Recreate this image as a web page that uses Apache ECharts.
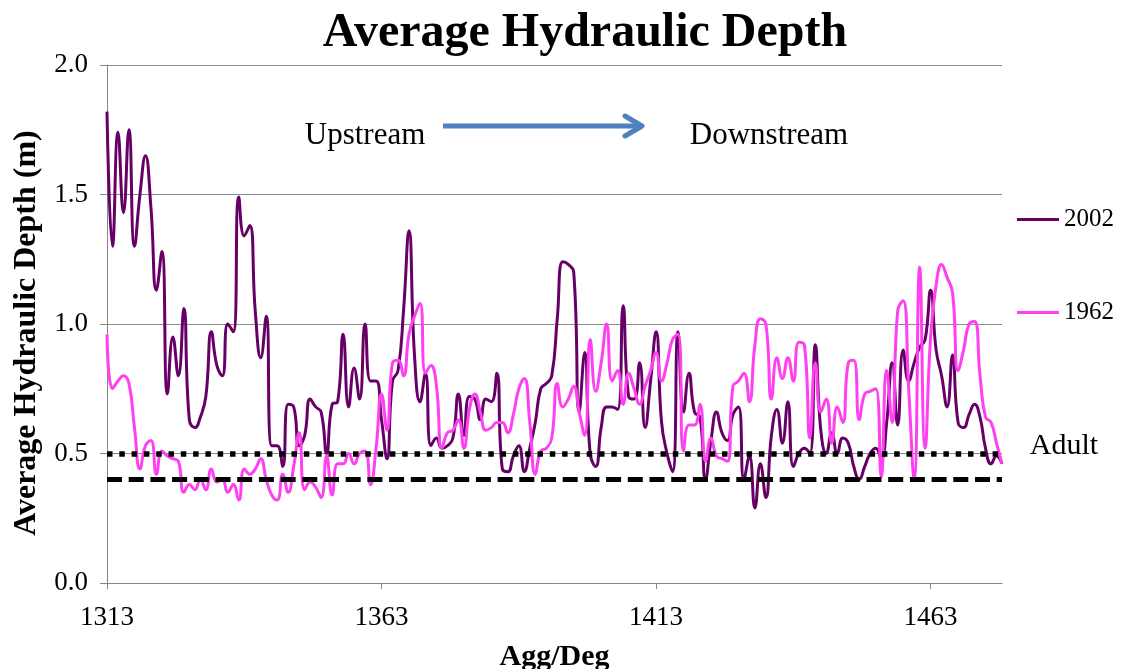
<!DOCTYPE html>
<html><head><meta charset="utf-8">
<script src="https://cdn.jsdelivr.net/npm/echarts@6/dist/echarts.min.js"></script>
<style>html,body{margin:0;padding:0;background:#fff}#c{width:1136px;height:669px}</style>
</head><body><div id="c"></div>
<script>
const categories = [
1313,1314,1315,1316,1317,1318,1319,1320,1321,1322,
1323,1324,1325,1326,1327,1328,1329,1330,1331,1332,
1333,1334,1335,1336,1337,1338,1339,1340,1341,1342,
1343,1344,1345,1346,1347,1348,1349,1350,1351,1352,
1353,1354,1355,1356,1357,1358,1359,1360,1361,1362,
1363,1364,1365,1366,1367,1368,1369,1370,1371,1372,
1373,1374,1375,1376,1377,1378,1379,1380,1381,1382,
1383,1384,1385,1386,1387,1388,1389,1390,1391,1392,
1393,1394,1395,1396,1397,1398,1399,1400,1401,1402,
1403,1404,1405,1406,1407,1408,1409,1410,1411,1412,
1413,1414,1415,1416,1417,1418,1419,1420,1421,1422,
1423,1424,1425,1426,1427,1428,1429,1430,1431,1432,
1433,1434,1435,1436,1437,1438,1439,1440,1441,1442,
1443,1444,1445,1446,1447,1448,1449,1450,1451,1452,
1453,1454,1455,1456,1457,1458,1459,1460,1461,1462,
1463,1464,1465,1466,1467,1468,1469,1470,1471,1472,
1473,1474,1475,1476];

const depth2002 = [
1.82,1.30,1.74,1.43,1.75,1.30,1.50,1.65,1.45,1.13,
1.28,0.73,0.95,0.80,1.06,0.63,0.60,0.64,0.72,0.97,
0.84,0.80,1.00,0.97,1.49,1.34,1.38,1.05,0.87,1.03,
0.53,0.53,0.45,0.69,0.68,0.53,0.57,0.71,0.68,0.66,
0.50,0.69,0.70,0.96,0.68,0.83,0.71,1.00,0.78,0.78,
0.63,0.48,0.78,0.82,1.05,1.36,0.88,0.70,0.81,0.53,
0.56,0.52,0.53,0.56,0.73,0.57,0.72,0.71,0.63,0.71,
0.70,0.81,0.44,0.43,0.49,0.53,0.43,0.52,0.62,0.75,
0.77,0.80,1.02,1.24,1.23,1.20,0.66,0.89,0.50,0.45,
0.60,0.68,0.68,0.67,1.07,0.72,0.71,0.85,0.60,0.78,
0.97,0.62,0.50,0.43,0.97,0.66,0.81,0.66,0.64,0.40,
0.55,0.66,0.58,0.55,0.65,0.68,0.40,0.49,0.29,0.46,
0.33,0.57,0.67,0.54,0.70,0.45,0.50,0.52,0.50,0.92,
0.59,0.50,0.58,0.50,0.56,0.54,0.45,0.40,0.45,0.50,
0.52,0.48,0.62,0.85,0.61,0.90,0.78,0.85,0.91,0.94,
1.13,0.90,0.80,0.68,0.88,0.62,0.60,0.65,0.69,0.64,
0.52,0.46,0.49,0.46];

const depth1962 = [
0.96,0.75,0.78,0.80,0.77,0.60,0.44,0.53,0.55,0.42,
0.51,0.49,0.48,0.47,0.35,0.38,0.36,0.40,0.36,0.44,
0.39,0.40,0.35,0.38,0.32,0.44,0.42,0.44,0.48,0.40,
0.34,0.32,0.42,0.35,0.45,0.58,0.36,0.39,0.37,0.33,
0.49,0.34,0.46,0.46,0.50,0.46,0.50,0.51,0.38,0.52,
0.73,0.59,0.85,0.86,0.80,0.96,1.03,1.08,0.81,0.84,
0.76,0.52,0.58,0.59,0.63,0.52,0.67,0.73,0.66,0.59,
0.60,0.62,0.62,0.58,0.65,0.75,0.79,0.62,0.42,0.51,
0.52,0.56,0.77,0.68,0.71,0.76,0.66,0.57,0.94,0.74,
0.85,1.00,0.78,0.82,0.69,0.81,0.75,0.69,0.76,0.82,
0.89,0.78,0.85,0.94,0.96,0.51,0.61,0.61,0.69,0.47,
0.56,0.49,0.48,0.47,0.76,0.78,0.81,0.70,0.92,1.02,
1.00,0.71,0.87,0.79,0.87,0.78,0.93,0.92,0.56,0.85,
0.66,0.71,0.54,0.68,0.62,0.85,0.86,0.63,0.73,0.74,
0.75,0.41,0.82,0.62,1.05,1.09,0.75,0.40,1.22,0.52,
0.95,1.15,1.23,1.18,1.12,0.82,0.90,1.00,1.01,0.80,
0.64,0.62,0.54,0.46];

const xTickLabels = [1313, 1363, 1413, 1463];
const yMin = 0, yMax = 2, yStep = 0.5;
const adultUpper = 0.5;   // dotted threshold
const adultLower = 0.4;   // dashed threshold
const seriesNames = ['2002', '1962'];

const serif = '"Liberation Serif", "Times New Roman", serif';
const chart = echarts.init(document.getElementById('c'), null, {renderer: 'canvas'});

chart.setOption({
  animation: false,
  backgroundColor: '#ffffff',
  grid: {left: 107, right: 134, top: 65, bottom: 86, containLabel: false, outerBoundsMode: 'none'},
  legend: {
    orient: 'vertical', left: 1012, top: 202,
    itemWidth: 42, itemHeight: 3, itemGap: 68, icon: 'rect',
    textStyle: {fontFamily: serif, fontSize: 25, color: '#000'},
    data: seriesNames
  },
  xAxis: {
    type: 'category', data: categories, boundaryGap: false,
    name: 'Agg/Deg', nameLocation: 'middle', nameGap: 59,
    nameTextStyle: {fontFamily: serif, fontSize: 30, fontWeight: 'bold', color: '#000'},
    axisLine: {lineStyle: {color: '#868686', width: 1}},
    axisTick: {show: true, length: 6, lineStyle: {color: '#868686'},
      interval: (i, v) => xTickLabels.indexOf(Number(v)) >= 0},
    axisLabel: {fontFamily: serif, fontSize: 27, color: '#000', margin: 21,
      interval: (i, v) => xTickLabels.indexOf(Number(v)) >= 0},
    splitLine: {show: false}
  },
  yAxis: {
    type: 'value', min: yMin, max: yMax, interval: yStep,
    name: 'Average Hydraulic Depth (m)', nameLocation: 'middle', nameGap: 64,
    nameTextStyle: {fontFamily: serif, fontSize: 32, fontWeight: 'bold', color: '#000',
      padding: [0, 18, 0, 0]},
    axisLine: {show: true, lineStyle: {color: '#868686', width: 1}},
    axisTick: {show: true, length: 7, lineStyle: {color: '#868686'}},
    axisLabel: {fontFamily: serif, fontSize: 27, color: '#000', margin: 19,
      formatter: v => v.toFixed(1)},
    splitLine: {show: true, lineStyle: {color: '#8c8c8c', width: 1}}
  },
  series: [
    {name: seriesNames[0], type: 'line', data: depth2002, smooth: 0.5, symbol: 'none',
      lineStyle: {color: '#660066', width: 3}, itemStyle: {color: '#660066'}, z: 3},
    {name: seriesNames[1], type: 'line', data: depth1962, smooth: 0.5, symbol: 'none',
      lineStyle: {color: '#ff40f0', width: 3}, itemStyle: {color: '#ff40f0'}, z: 4},
    {name: 'Adult', type: 'line', data: [], z: 5,
      markLine: {silent: true, symbol: 'none', label: {show: false},
        data: [
          {yAxis: adultUpper, lineStyle: {color: '#000', width: 5.5, type: [5.5, 6.8]}},
          {yAxis: adultLower, lineStyle: {color: '#000', width: 5, type: [15, 6.7]}}
        ]}}
  ],
  graphic: [
    {type: 'text', x: 585, y: 34, z: 10,
      style: {text: 'Average Hydraulic Depth', font: 'bold 48px ' + serif, fill: '#000',
        align: 'center', verticalAlign: 'middle'}},
    {type: 'text', x: 365, y: 136, z: 10,
      style: {text: 'Upstream', font: '31px ' + serif, fill: '#000', align: 'center', verticalAlign: 'middle'}},
    {type: 'text', x: 769, y: 136, z: 10,
      style: {text: 'Downstream', font: '31px ' + serif, fill: '#000', align: 'center', verticalAlign: 'middle'}},
    {type: 'line', z: 10, shape: {x1: 443, y1: 126, x2: 640, y2: 126},
      style: {stroke: '#4f81bd', lineWidth: 5}},
    {type: 'polyline', z: 10, shape: {points: [[625, 116], [642, 126], [625, 136]]},
      style: {stroke: '#4f81bd', lineWidth: 5, fill: null, lineCap: 'round', lineJoin: 'round'}},
    {type: 'text', x: 1064, y: 446, z: 10,
      style: {text: 'Adult', font: '30px ' + serif, fill: '#000', align: 'center', verticalAlign: 'middle'}}
  ]
});
</script></body></html>
